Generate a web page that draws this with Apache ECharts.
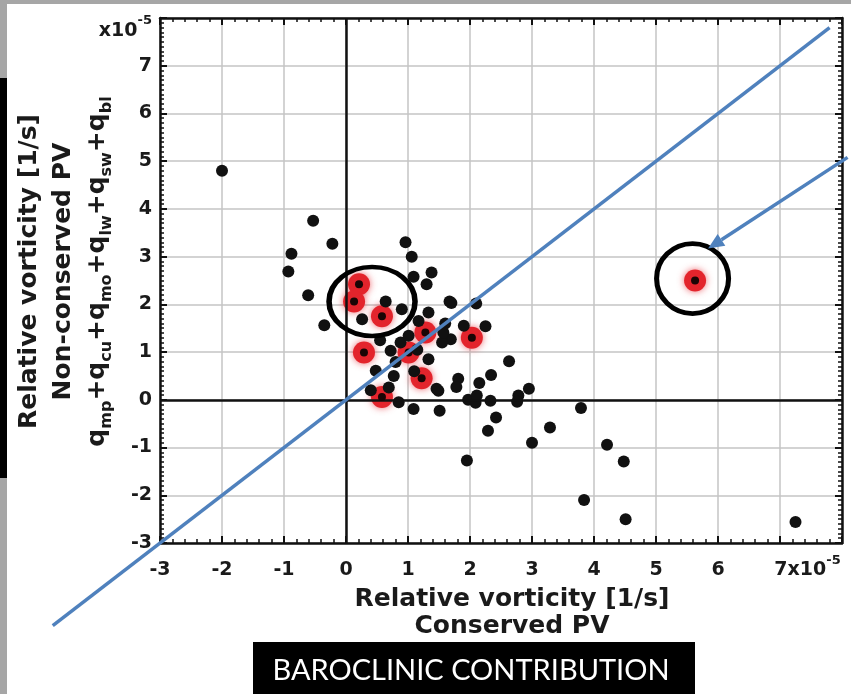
<!DOCTYPE html>
<html>
<head>
<meta charset="utf-8">
<title>Baroclinic contribution</title>
<script src="https://cdn.jsdelivr.net/npm/echarts@6/dist/echarts.min.js"></script>
<style>
    html, body { margin: 0; padding: 0; background: #fff; }
    #main { width: 851px; height: 694px; }
</style>
</head>
<body>
<div id="main"></div>
<script>
// relative vorticity in units of 1e-5 1/s : [conserved PV, non-conserved PV]
var points = [
    [-2.0, 4.8], [-0.53, 3.75], [-0.22, 3.27], [-0.88, 3.06], [-0.93, 2.69],
    [-0.61, 2.19], [-0.35, 1.56], [0.96, 3.3], [1.06, 3.0], [1.09, 2.58],
    [1.38, 2.67], [1.3, 2.42], [1.67, 2.06], [2.1, 2.02], [2.25, 1.54],
    [2.63, 0.81], [2.34, 0.52], [2.15, 0.35], [1.81, 0.44], [1.78, 0.27],
    [1.49, 0.19], [1.51, -0.23], [1.97, 0.0], [2.09, -0.06], [2.11, 0.09],
    [2.33, -0.02], [2.42, -0.37], [2.29, -0.65], [1.95, -1.27], [2.78, 0.09],
    [2.76, -0.04], [2.95, 0.23], [3.0, -0.9], [3.29, -0.58], [3.79, -0.17],
    [4.21, -0.94], [4.48, -1.29], [3.84, -2.1], [4.51, -2.5], [7.25, -2.56],
    [1.6, 1.6], [1.69, 1.27], [1.55, 1.2], [1.57, 1.41], [1.7, 2.03],
    [0.88, 1.2], [1.01, 1.34], [0.72, 1.03], [0.8, 0.79], [1.33, 0.85],
    [0.48, 0.61], [0.77, 0.5], [0.69, 0.26], [0.85, -0.05], [1.09, -0.19],
    [1.46, 0.23], [0.26, 1.69], [1.17, 1.65], [1.33, 1.83], [0.64, 2.06],
    [0.9, 1.9], [1.15, 1.05], [0.55, 1.25], [1.9, 1.55], [1.1, 0.6], [0.4, 0.2]
];
// cases marked in red
var highlighted = [
    [0.21, 2.42], [0.13, 2.06], [0.58, 1.75], [0.29, 0.99], [1.01, 0.99],
    [1.28, 1.41], [1.22, 0.45], [0.58, 0.06], [2.03, 1.3], [5.63, 2.5]
];
// annotation: ringed groups, the 1:1 line and the arrow
var rings = [[0.42, 2.06], [5.59, 2.54]];
var ringSizes = [[86, 69], [72, 70]];
var oneToOne = [[-4.73, -4.73], [7.8, 7.8]];
var arrowFrom = [8.09, 5.08];
var arrowTo = [5.84, 3.17];

var txt = '#1a1a1a';
var font = 'DejaVu Sans';
var tickFont = 19;
var blue = '#4f81bd';

var chart = echarts.init(document.getElementById('main'));

function frameAxis(pos, split) {
    return {
        type: 'value', position: pos, min: -3, max: 8, interval: 1,
        axisLine: { show: true, onZero: false, lineStyle: { color: '#111', width: 2.5 } },
        axisTick: { show: true, inside: true, length: 7, lineStyle: { color: '#111', width: 2 } },
        minorTick: { show: true, splitNumber: split, length: 4, lineStyle: { color: '#111', width: 1.5 } },
        axisLabel: { show: false },
        splitLine: { show: false }
    };
}

var xBottom = frameAxis('bottom', 5);
xBottom.splitLine = { show: true, lineStyle: { color: '#c4c4c4', width: 1.5 } };
xBottom.axisLabel = {
    show: true, margin: 11, color: txt, fontFamily: font, fontWeight: 'bold', fontSize: tickFont,
    formatter: function (v) {
        if (v === 8) return '';
        if (v === 7) return '{pad| }{n|7}{n|x10}{s|-5}';
        return '{n|' + v + '}';
    },
    rich: {
        n: { fontFamily: font, fontWeight: 'bold', fontSize: tickFont, color: txt, padding: [7, 0, 0, 0] },
        s: { fontFamily: font, fontWeight: 'bold', fontSize: 13, color: txt, verticalAlign: 'top' },
        pad: { width: 55, fontSize: tickFont }
    }
};
xBottom.name = '{t|Relative vorticity [1/s]}\n{t|Conserved PV}';
xBottom.nameLocation = 'middle';
xBottom.nameGap = 43;
xBottom.nameMoveOverlap = false;
xBottom.nameTextStyle = {
    padding: [0, 0, 0, 22],
    rich: { t: { fontFamily: font, fontWeight: 'bold', fontSize: 25, color: txt, lineHeight: 27 } }
};

var yLeft = frameAxis('left', 10);
yLeft.splitLine = { show: true, lineStyle: { color: '#c4c4c4', width: 1.5 } };
yLeft.axisLabel = {
    show: true, margin: 8, color: txt, fontFamily: font, fontWeight: 'bold', fontSize: tickFont,
    formatter: function (v) {
        if (v === 8) return '{e|x10}{s|-5}';
        return v;
    },
    rich: {
        e: { fontFamily: font, fontWeight: 'bold', fontSize: tickFont, color: txt, padding: [26, 0, 0, 0] },
        s: { fontFamily: font, fontWeight: 'bold', fontSize: 13, color: txt, padding: [19, 0, 0, 0], verticalAlign: 'top' }
    }
};
yLeft.name = '{t|Relative vorticity [1/s]}\n{t|Non-conserved PV}\n' +
    '{t|q}{b|mp}{t|+q}{b|cu}{t|+q}{b|mo}{t|+q}{b|lw}{t|+q}{b|sw}{t|+q}{b|bl}';
yLeft.nameLocation = 'middle';
yLeft.nameGap = 46;
yLeft.nameMoveOverlap = false;
yLeft.nameTextStyle = {
    padding: [0, 0, 0, 18],
    rich: {
        t: { fontFamily: font, fontWeight: 'bold', fontSize: 25, color: txt, lineHeight: 34 },
        b: { fontFamily: font, fontWeight: 'bold', fontSize: 16, color: txt, lineHeight: 34, height: 14, verticalAlign: 'bottom' }
    }
};

var option = {
    backgroundColor: '#fff',
    animation: false,
    grid: { left: 160, right: 9, top: 18, bottom: 151, containLabel: false, outerBoundsMode: 'none' },
    xAxis: [xBottom, frameAxis('top', 5)],
    yAxis: [yLeft, frameAxis('right', 10)],
    graphic: [
        { type: 'rect', x: 0, y: 0, shape: { width: 851, height: 4 }, style: { fill: '#a6a6a6' }, z: 100 },
        { type: 'rect', x: 0, y: 0, shape: { width: 7, height: 694 }, style: { fill: '#a6a6a6' }, z: 100 },
        { type: 'rect', x: 0, y: 78, shape: { width: 7, height: 400 }, style: { fill: '#000' }, z: 101 },
        { type: 'rect', x: 253, y: 642, shape: { width: 442, height: 52 }, style: { fill: '#000' }, z: 100 },
        {
            type: 'text', x: 471, y: 671, z: 101,
            style: {
                text: 'BAROCLINIC CONTRIBUTION', fill: '#fff', font: '29px Lato',
                textAlign: 'center', textVerticalAlign: 'middle'
            }
        }
    ],
    series: [
        {
            name: 'axes', type: 'scatter', data: [], z: 1, silent: true,
            markLine: {
                silent: true, symbol: 'none', label: { show: false }, animation: false,
                lineStyle: { color: '#111', width: 2.5, type: 'solid' },
                data: [{ xAxis: 0 }, { yAxis: 0 }]
            }
        },
        {
            name: 'highlighted', type: 'scatter', data: highlighted, z: 3, symbolSize: 22,
            itemStyle: { color: '#e3242c', opacity: 1, shadowBlur: 7, shadowColor: 'rgba(230,40,50,0.7)' }
        },
        {
            name: 'cases', type: 'scatter', data: points, z: 4, symbolSize: 12,
            itemStyle: { color: '#111', opacity: 1 }
        },
        {
            name: 'highlighted core', type: 'scatter', data: highlighted, z: 5, symbolSize: 8,
            itemStyle: { color: '#1a0505', opacity: 1 }
        },
        {
            name: 'rings', type: 'scatter', z: 6, silent: true,
            data: rings.map(function (p, i) { return { value: p, symbolSize: ringSizes[i] }; }),
            itemStyle: { color: 'rgba(0,0,0,0)', borderColor: '#000', borderWidth: 5, opacity: 1 }
        },
        {
            // 1:1 line and the arrow pointing at the outlier, drawn past the plot frame
            name: 'annotation', type: 'custom', z: 7, silent: true, clip: false,
            data: [[0, 0]],
            renderItem: function (params, api) {
                var a = api.coord(oneToOne[0]), b = api.coord(oneToOne[1]);
                var f = api.coord(arrowFrom), t = api.coord(arrowTo);
                var ang = Math.atan2(t[1] - f[1], t[0] - f[0]);
                var len = 16, half = 7;
                var bx = t[0] - len * Math.cos(ang), by = t[1] - len * Math.sin(ang);
                var head = [
                    [t[0], t[1]],
                    [bx + half * Math.sin(ang), by - half * Math.cos(ang)],
                    [bx - half * Math.sin(ang), by + half * Math.cos(ang)]
                ];
                return {
                    type: 'group',
                    children: [
                        { type: 'line', shape: { x1: a[0], y1: a[1], x2: b[0], y2: b[1] }, style: { stroke: blue, lineWidth: 3.5 } },
                        { type: 'line', shape: { x1: f[0], y1: f[1], x2: bx, y2: by }, style: { stroke: blue, lineWidth: 3.5 } },
                        { type: 'polygon', shape: { points: head }, style: { fill: blue } }
                    ]
                };
            }
        }
    ]
};
chart.setOption(option);
</script>
</body>
</html>
